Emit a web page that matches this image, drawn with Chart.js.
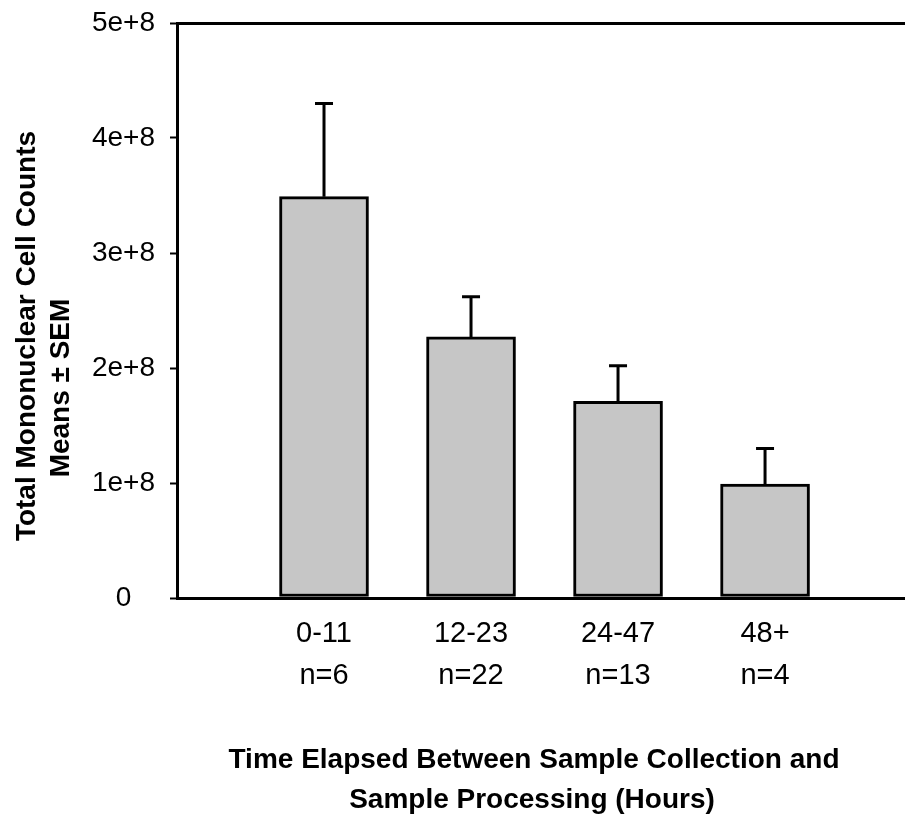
<!DOCTYPE html>
<html>
<head>
<meta charset="utf-8">
<script src="https://cdn.jsdelivr.net/npm/chart.js@4.4.1/dist/chart.umd.min.js"></script>
<style>
  html, body { margin: 0; padding: 0; background: #fff; }
  #wrap { width: 905px; height: 823px; position: relative; }
</style>
</head>
<body>
<div id="wrap"><canvas id="cellChart"></canvas></div>
<script>
// data
const categories = ['0-11', '12-23', '24-47', '48+'];
const nLabels = ['n=6', 'n=22', 'n=13', 'n=4'];
const xPositions = [1, 2, 3, 4];
const means = [3.49e8, 2.27e8, 1.71e8, 0.99e8];
const sems = [0.81e8, 0.35e8, 0.31e8, 0.31e8];
const yTicks = [0, 1e8, 2e8, 3e8, 4e8, 5e8];
const yTickLabels = ['0', '1e+8', '2e+8', '3e+8', '4e+8', '5e+8'];
const yTitle = ['Total Mononuclear Cell Counts', 'Means \u00b1 SEM'];
const xTitle = ['Time Elapsed Between Sample Collection and', 'Sample Processing (Hours)'];

const FONT = "'Liberation Sans', Arial, Helvetica, sans-serif";

// error bars (upper only) + axis titles
const extras = {
    id: 'extras',
    afterDatasetsDraw(chart) {
        const ctx = chart.ctx;
        const xs = chart.scales.x, ys = chart.scales.y;
        ctx.save();
        ctx.strokeStyle = '#000';
        ctx.lineWidth = 3;
        means.forEach((m, i) => {
            const x = xs.getPixelForValue(xPositions[i]);
            const y0 = ys.getPixelForValue(m);
            const y1 = ys.getPixelForValue(m + sems[i]);
            ctx.beginPath();
            ctx.moveTo(x, y0);
            ctx.lineTo(x, y1);
            ctx.moveTo(x - 9, y1);
            ctx.lineTo(x + 9, y1);
            ctx.stroke();
        });
        ctx.restore();
    },
    afterDraw(chart) {
        const ctx = chart.ctx;
        ctx.save();
        ctx.fillStyle = '#000';
        ctx.font = `bold 28px ${FONT}`;
        ctx.textAlign = 'center';
        ctx.textBaseline = 'middle';
        ctx.fillText(xTitle[0], 534, 760);
        ctx.fillText(xTitle[1], 532, 800);

        ctx.save();
        ctx.translate(27, 336);
        ctx.rotate(-Math.PI / 2);
        ctx.fillText(yTitle[0], 0, 0);
        ctx.restore();
        ctx.save();
        ctx.translate(61, 388);
        ctx.rotate(-Math.PI / 2);
        ctx.fillText(yTitle[1], 0, 0);
        ctx.restore();
        ctx.restore();
    }
};

new Chart(document.getElementById('cellChart'), {
    type: 'bar',
    data: {
        datasets: [{
            data: xPositions.map((x, i) => ({ x: x, y: means[i] })),
            backgroundColor: '#c6c6c6',
            borderColor: '#000',
            borderWidth: 3,
            borderSkipped: false,
            barThickness: 89
        }]
    },
    options: {
        responsive: true,
        maintainAspectRatio: false,
        animation: false,
        devicePixelRatio: 1,
        layout: { padding: { top: 23, left: 0, right: 0, bottom: 0 } },
        plugins: { legend: { display: false }, tooltip: { enabled: false } },
        scales: {
            x: {
                type: 'linear',
                offset: false,
                min: 0,
                max: 4.952,
                afterBuildTicks: axis => { axis.ticks = xPositions.map(v => ({ value: v })); },
                afterFit: scale => {
                    scale.height = 225;
                    scale.paddingLeft = 0;
                    scale.paddingRight = 0;
                },
                grid: { display: false, drawTicks: false },
                border: { display: true, color: '#000', width: 3 },
                ticks: {
                    autoSkip: false,
                    maxRotation: 0,
                    padding: 15,
                    color: '#000',
                    font: { family: FONT, size: 29, lineHeight: 1.45 },
                    callback: v => {
                        const i = xPositions.indexOf(v);
                        return i < 0 ? '' : [categories[i], nLabels[i]];
                    }
                }
            },
            y: {
                min: 0,
                max: 5e8,
                afterBuildTicks: axis => { axis.ticks = yTicks.map(v => ({ value: v })); },
                afterFit: scale => {
                    scale.width = 177;
                    scale.paddingTop = 0;
                    scale.paddingBottom = 0;
                },
                grid: {
                    color: c => (c.tick && c.tick.value === 5e8) ? '#000' : 'rgba(0,0,0,0)',
                    lineWidth: 3,
                    tickColor: '#000',
                    tickWidth: 2,
                    tickLength: 7
                },
                border: { display: true, color: '#000', width: 3 },
                ticks: {
                    crossAlign: 'center',
                    padding: 15,
                    color: '#000',
                    font: { family: FONT, size: 28 },
                    callback: v => {
                        const i = yTicks.indexOf(v);
                        return i < 0 ? '' : yTickLabels[i];
                    }
                }
            }
        }
    },
    plugins: [extras]
});
</script>
</body>
</html>
